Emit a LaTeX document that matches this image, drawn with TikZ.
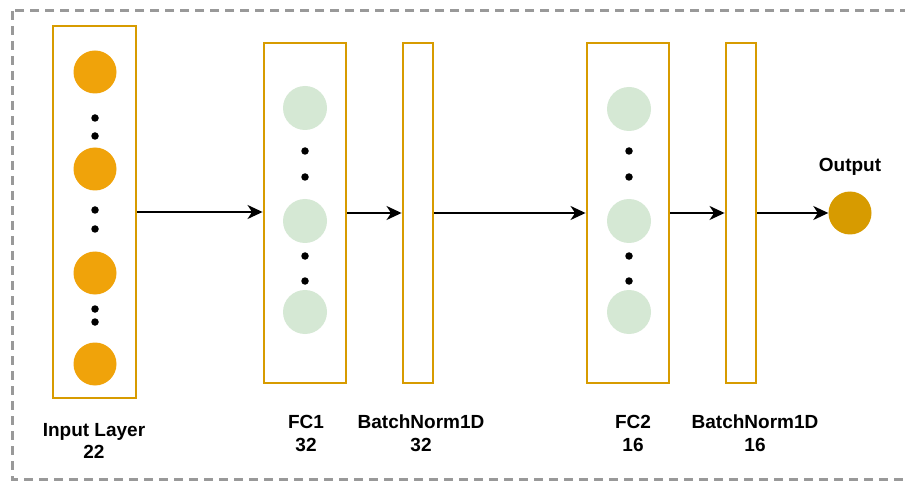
\documentclass[tikz,border=0pt]{standalone}
\usepackage{fontspec}
\setmainfont{Liberation Sans}
\usetikzlibrary{arrows.meta}

\definecolor{framecol}{HTML}{D79B00}
\definecolor{inputfill}{HTML}{F0A30A}
\definecolor{hiddenfill}{HTML}{D5E8D4}
\definecolor{outfill}{HTML}{D79B00}
\definecolor{bordercol}{HTML}{999999}

\begin{document}
\begin{tikzpicture}[x=1pt,y=-1pt,
  layerbox/.style={draw=framecol, line width=2.9pt, fill=white, inner sep=0pt},
  inneuron/.style={circle, fill=inputfill, minimum size=43, inner sep=0pt},
  hidneuron/.style={circle, fill=hiddenfill, minimum size=44, inner sep=0pt},
  outneuron/.style={circle, fill=outfill, minimum size=43, inner sep=0pt},
  gapdot/.style={circle, fill=black, minimum size=7.5, inner sep=0pt},
  arr/.style={draw=black, line width=1.7pt, -{Stealth[length=15pt,width=14pt,inset=4.5pt]}},
  lbl/.style={anchor=base, inner sep=0pt, font=\bfseries\fontsize{19}{23}\selectfont}
]
% page area and clip
\clip (0,0) rectangle (905,481);
\fill[white] (0,0) rectangle (905,481);

% dashed frame around the network
\draw[bordercol, line width=3pt, dash pattern=on 9pt off 6pt] (12,11) rectangle (930,479);

% layer boxes
\node[layerbox, minimum width=83, minimum height=372] (inl) at (94.5,212) {};
\node[layerbox, minimum width=82, minimum height=340] (fcA) at (305,213) {};
\node[layerbox, minimum width=30, minimum height=340] (bnA) at (418,213) {};
\node[layerbox, minimum width=82, minimum height=340] (fcB) at (628,213) {};
\node[layerbox, minimum width=30, minimum height=340] (bnB) at (741,213) {};

% input neurons
\node[inneuron] (i1) at (95,72) {};
\node[inneuron] (i2) at (95,169) {};
\node[inneuron] (i3) at (95,273) {};
\node[inneuron] (i4) at (95,364) {};
\node[gapdot] (id1) at (95,118) {};
\node[gapdot] (id2) at (95,136) {};
\node[gapdot] (id3) at (95,210) {};
\node[gapdot] (id4) at (95,229) {};
\node[gapdot] (id5) at (95,309) {};
\node[gapdot] (id6) at (95,322) {};

% FC1 neurons
\node[hidneuron] (a1) at (305,108) {};
\node[hidneuron] (a2) at (305,221) {};
\node[hidneuron] (a3) at (305,312) {};
\node[gapdot] (ad1) at (305,151) {};
\node[gapdot] (ad2) at (305,177) {};
\node[gapdot] (ad3) at (305,256) {};
\node[gapdot] (ad4) at (305,281) {};

% FC2 neurons
\node[hidneuron] (b1) at (629,109) {};
\node[hidneuron] (b2) at (629,221) {};
\node[hidneuron] (b3) at (629,312) {};
\node[gapdot] (bd1) at (629,151) {};
\node[gapdot] (bd2) at (629,177) {};
\node[gapdot] (bd3) at (629,256) {};
\node[gapdot] (bd4) at (629,281) {};

% output neuron
\node[outneuron] (out) at (850,213) {};

% connections between layers
\draw[arr] (inl.east) -- (inl.east -| fcA.west);
\draw[arr] (fcA.east) -- (bnA.west);
\draw[arr] (bnA.east) -- (fcB.west);
\draw[arr] (fcB.east) -- (bnB.west);
\draw[arr] (bnB.east) -- (out.west);

% labels
\node[lbl] (tOut) at (850,172) {Output};
\node[lbl] (tIn1) at (94,436) {Input Layer};
\node[lbl] (tIn2) at (94,458) {22};
\node[lbl] (tFa1) at (306,428) {FC1};
\node[lbl] (tFa2) at (306,451) {32};
\node[lbl] (tBa1) at (421,428) {BatchNorm1D};
\node[lbl] (tBa2) at (421,451) {32};
\node[lbl] (tFb1) at (633,428) {FC2};
\node[lbl] (tFb2) at (633,451) {16};
\node[lbl] (tBb1) at (755,428) {BatchNorm1D};
\node[lbl] (tBb2) at (755,451) {16};
\end{tikzpicture}
\end{document}
